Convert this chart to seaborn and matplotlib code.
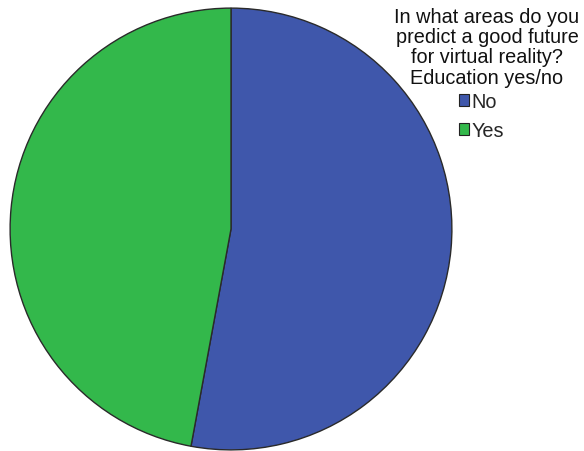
import matplotlib
matplotlib.use("Agg")
import matplotlib.pyplot as plt
import seaborn as sns

# Survey answers: share of respondents (%)
categories = ["No", "Yes"]
shares = [52.9, 47.1]
colors = ["#3F57AB", "#33B84B"]
title_lines = ["In what areas do you", "predict a good future",
               "for virtual reality?", "Education yes/no"]

sns.set_theme(style="white")
plt.rcParams["font.family"] = ["Liberation Sans", "DejaVu Sans"]

W, H = 584, 452
fig = plt.figure(figsize=(W / 100, H / 100), dpi=100)
fig.patch.set_facecolor("white")

cx, cy, r = 231, 230, 222
ax = fig.add_axes([(cx - r) / W, (H - cy - r) / H, 2 * r / W, 2 * r / H])
ax.pie(shares, colors=colors, startangle=90, counterclock=False,
       radius=1.0,
       wedgeprops=dict(edgecolor="#2a2a2a", linewidth=1.0))
ax.set_xlim(-1.005, 1.005)
ax.set_ylim(-1.005, 1.005)
ax.set_aspect("equal")
ax.axis("off")

fig.text(487 / W, 1 - 8 / H, "\n".join(title_lines), ha="center", va="top",
         fontsize=14.3, linespacing=1.08, color="#111111")

handles = [plt.Rectangle((0, 0), 1, 1, facecolor=c, edgecolor="#222222",
                         linewidth=0.8) for c in colors]
leg = fig.legend(handles, categories, loc="upper left",
                 bbox_to_anchor=(459 / W, 1 - 93 / H), frameon=False,
                 fontsize=14.3, handlelength=0.5, handleheight=0.5,
                 handletextpad=0.12, labelspacing=0.5, borderpad=0,
                 borderaxespad=0)

fig.savefig("out.png", dpi=100, facecolor="white")
